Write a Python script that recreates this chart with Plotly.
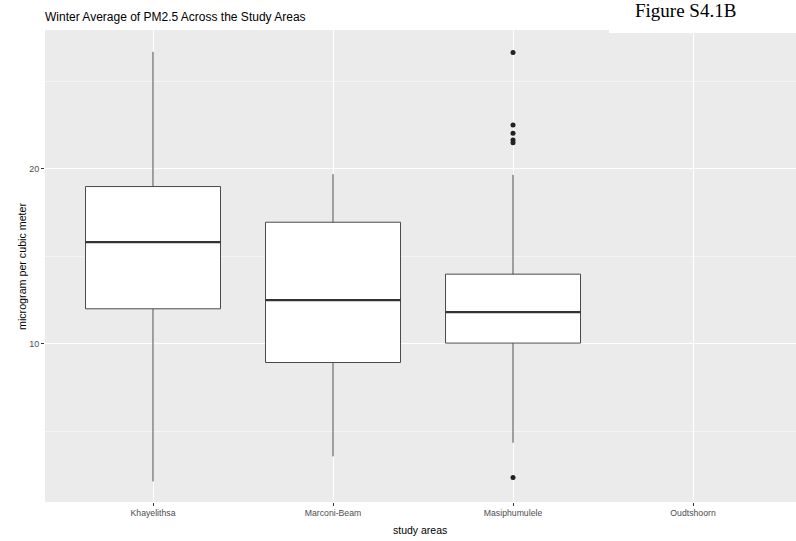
import plotly.graph_objects as go

categories = ["Khayelithsa", "Marconi-Beam", "Masiphumulele", "Oudtshoorn"]
box_areas = ["Khayelithsa", "Marconi-Beam", "Masiphumulele"]
q1 = [12.0, 8.93, 10.04]
median = [15.81, 12.50, 11.81]
q3 = [18.99, 16.95, 13.98]
lower = [2.13, 3.56, 4.34]
upper = [26.69, 19.70, 19.66]
outlier_area = ["Masiphumulele"] * 6
outlier_val = [26.65, 22.51, 22.04, 21.65, 21.5, 2.36]

BOX_W = 0.75
W, H = 796, 541
ML, MT, MB = 45, 30, 39
PW = W - ML
PH = H - MT - MB

fig = go.Figure()
fig.add_trace(go.Box(
    x=box_areas, q1=q1, median=median, q3=q3,
    lowerfence=lower, upperfence=upper,
    width=BOX_W, fillcolor="white",
    line=dict(color="#4a4a4a", width=1), boxpoints=False,
    whiskerwidth=0, showlegend=False,
))
fig.add_trace(go.Scatter(
    x=outlier_area, y=outlier_val, mode="markers",
    marker=dict(color="#222222", size=5), showlegend=False,
))
for i, m in enumerate(median):
    fig.add_shape(type="line", xref="x", yref="y",
                  x0=i - BOX_W / 2, x1=i + BOX_W / 2, y0=m, y1=m,
                  line=dict(color="#333333", width=2.2))

fig.add_shape(type="rect", xref="paper", yref="paper",
              x0=(609 - 45) / PW, x1=1.01, y0=1 - 3 / PH, y1=1 + MT / PH,
              fillcolor="white", line=dict(width=0), layer="between")

fig.update_layout(
    width=W, height=H,
    margin=dict(l=ML, r=0, t=MT, b=MB),
    paper_bgcolor="white", plot_bgcolor="#EBEBEB",
    font=dict(family="Liberation Sans, Arial, sans-serif", color="#4D4D4D"),
    title=dict(text="Winter Average of PM2.5 Across the Study Areas",
               x=ML / W, xanchor="left", y=1 - 17 / H, yanchor="middle",
               font=dict(size=12, color="black")),
    annotations=[
        dict(text="Figure S4.1B", xref="paper", yref="paper",
             x=(685 - 45) / PW, y=1 + (30 - 10) / PH, xanchor="center", yanchor="middle",
             showarrow=False,
             font=dict(family="Liberation Serif, Times New Roman, serif", size=19, color="black")),
        dict(text="study areas", xref="paper", yref="paper",
             x=(420 - 45) / PW, y=-(530 - 502) / PH, xanchor="center", yanchor="middle",
             showarrow=False, font=dict(size=10.5, color="black")),
        dict(text="microgram per cubic meter", xref="paper", yref="paper",
             x=(22 - 45) / PW, y=(502 - 266) / PH, xanchor="center", yanchor="middle",
             textangle=-90, showarrow=False, font=dict(size=10.7, color="black")),
    ],
)
fig.update_xaxes(
    type="category", categoryorder="array", categoryarray=categories,
    range=[-0.6, 3.572], showgrid=True, gridcolor="white", gridwidth=1.1,
    ticks="outside", ticklen=3, tickcolor="#333333", tickwidth=1,
    tickfont=dict(size=8.7, color="#4D4D4D"),
    zeroline=False,
)
fig.update_yaxes(
    range=[0.954, 27.94], tick0=0, dtick=10, showgrid=True, gridcolor="white", gridwidth=1.1,
    minor=dict(dtick=5, tick0=0, showgrid=True, gridcolor="#F5F5F5", gridwidth=0.6),
    ticks="outside", ticklen=3, tickcolor="#333333", tickwidth=1,
    tickfont=dict(size=9, color="#4D4D4D"),
    zeroline=False,
)

fig.write_html("out.html", config={"displayModeBar": False},
               post_script="document.body.style.margin='0';")
